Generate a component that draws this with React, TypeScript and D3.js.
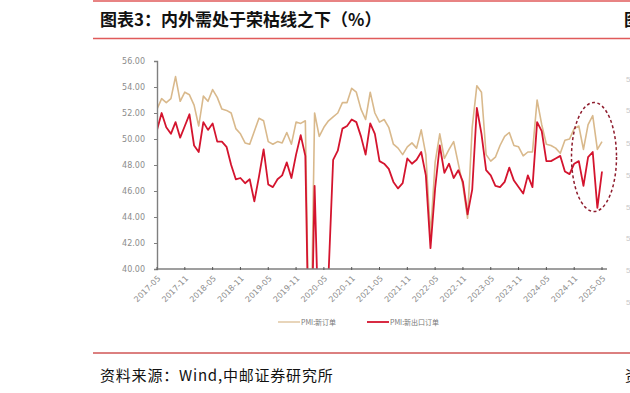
import React, { useRef, useEffect } from 'react';
import * as d3 from 'd3';

// monthly, 2017-05 .. 2025-05
const startMonth = '2017-05';
const newOrders = [
  52.3, 53.1, 52.8, 53.1, 54.8, 52.9, 53.6, 53.4,
  52.6, 51.0, 53.3, 52.9, 53.8, 53.2, 52.3, 52.2, 52.0, 50.8, 50.4, 49.7,
  49.6, 50.6, 51.6, 51.4, 49.8, 49.6, 49.8, 49.7, 50.5, 49.6, 51.3, 51.2,
  51.4, 29.3, 52.0, 50.2, 50.9, 51.4, 51.7, 52.0, 52.8, 52.8, 53.9, 53.6,
  52.3, 51.5, 53.6, 52.0, 51.3, 51.5, 50.9, 49.6, 49.3, 48.8, 49.4, 49.7,
  49.3, 50.7, 48.8, 42.6, 48.2, 50.4, 48.5, 49.2, 49.8, 48.1, 46.4, 43.9,
  50.9, 54.1, 53.6, 48.8, 48.3, 48.6, 49.5, 50.2, 50.5, 49.5, 49.4, 48.7,
  49.0, 49.0, 53.0, 51.1, 49.6, 49.5, 49.3, 48.9, 49.9, 50.0, 50.8, 51.0,
  49.2, 51.1, 51.8, 49.2, 49.8,
];
const exportOrders = [
  50.7, 52.0, 50.9, 50.4, 51.3, 50.1, 51.0, 51.9,
  49.5, 49.0, 51.3, 50.7, 51.2, 49.8, 49.8, 49.4, 48.0, 46.9, 47.0, 46.6,
  46.9, 45.2, 47.1, 49.2, 46.5, 46.3, 46.9, 47.2, 48.2, 47.0, 48.8, 50.3,
  48.7, 28.7, 46.4, 33.5, 35.3, 39.5, 48.4, 49.1, 50.8, 51.0, 51.5, 51.3,
  50.2, 48.8, 51.2, 50.4, 48.3, 48.1, 47.7, 46.7, 46.2, 46.6, 48.5, 48.1,
  48.4, 49.0, 47.2, 41.6, 46.2, 49.5, 47.4, 48.1, 47.0, 47.6, 46.7, 44.2,
  46.1, 52.4, 50.4, 47.6, 47.2, 46.4, 46.3, 46.7, 47.8, 46.8, 46.3, 45.8,
  47.2, 46.3, 51.3, 50.6, 48.3, 48.3, 48.5, 48.7, 47.5, 47.3, 48.1, 48.3,
  46.4, 48.6, 49.0, 44.7, 47.5,
];
const yTicks = [40, 42, 44, 46, 48, 50, 52, 54, 56];
const xTickLabels = [
  '2017-05', '2017-11', '2018-05', '2018-11', '2019-05', '2019-11', '2020-05', '2020-11',
  '2021-05', '2021-11', '2022-05', '2022-11', '2023-05', '2023-11', '2024-05', '2024-11', '2025-05',
];
const seriesNames = ['PMI:新订单', 'PMI:新出口订单'];

const monthIndex = (s: string) => {
  const [y, m] = s.split('-').map(Number);
  const [y0, m0] = startMonth.split('-').map(Number);
  return (y - y0) * 12 + (m - m0);
};

const App = () => {
  const svgRef = useRef<SVGSVGElement>(null);

  useEffect(() => {
    const svg = d3.select(svgRef.current);
    svg.selectAll('*').remove();

    const W = 630, H = 393;
    const left = 157, right = 602, top = 61, bottom = 269;
    const cjk = '"Noto Sans CJK SC", "Noto Sans", sans-serif';

    svg.attr('width', W).attr('height', H);

    // frame lines
    svg.append('line').attr('x1', 93).attr('x2', W).attr('y1', 1).attr('y2', 1)
      .attr('stroke', '#e05a5a').attr('stroke-width', 1.5);
    svg.append('line').attr('x1', 93).attr('x2', W).attr('y1', 38.5).attr('y2', 38.5)
      .attr('stroke', '#e05a5a').attr('stroke-width', 1.5);
    svg.append('line').attr('x1', 93).attr('x2', W).attr('y1', 353).attr('y2', 353)
      .attr('stroke', '#b80000').attr('stroke-width', 1);

    svg.append('text').attr('x', 100).attr('y', 26)
      .style('font-family', cjk).style('font-size', '17px').style('font-weight', 'bold')
      .attr('fill', '#111').text('图表3：内外需处于荣枯线之下（%）');
    svg.append('text').attr('x', 624).attr('y', 26)
      .style('font-family', cjk).style('font-size', '17px').style('font-weight', 'bold')
      .attr('fill', '#111').text('图');

    svg.append('text').attr('x', 100).attr('y', 381)
      .style('font-family', cjk).style('font-size', '15px').style('letter-spacing', '0.8px')
      .attr('fill', '#111').text('资料来源：Wind,中邮证券研究所');
    svg.append('text').attr('x', 625).attr('y', 381)
      .style('font-family', cjk).style('font-size', '15px')
      .attr('fill', '#111').text('资');

    // faint labels of the neighbouring chart, cut off at the right edge
    [79, 110, 143, 175, 207, 238, 270, 302].forEach(yy => {
      svg.append('text').attr('x', 626).attr('y', yy + 3)
        .style('font-family', 'sans-serif').style('font-size', '8px')
        .attr('fill', '#c8c8c8').text('5');
    });

    const x = d3.scaleLinear().domain([0, newOrders.length - 1]).range([left, right]);
    const y = d3.scaleLinear().domain([40, 56]).range([bottom, top]);

    // clip
    svg.append('defs').append('clipPath').attr('id', 'plotClip')
      .append('rect').attr('x', left).attr('y', top - 5).attr('width', W - left).attr('height', bottom - top + 5);

    const line = d3.line<number>().x((d, i) => x(i)).y(d => y(d));
    const plot = svg.append('g').attr('clip-path', 'url(#plotClip)');
    plot.append('path').datum(newOrders).attr('d', line)
      .attr('fill', 'none').attr('stroke', '#d9b98c').attr('stroke-width', 1.6)
      .attr('stroke-linejoin', 'round');
    plot.append('path').datum(exportOrders).attr('d', line)
      .attr('fill', 'none').attr('stroke', '#d4142e').attr('stroke-width', 1.8)
      .attr('stroke-linejoin', 'round');

    // y axis
    const yAxis = svg.append('g').attr('transform', `translate(${left},0)`)
      .call(d3.axisLeft(y).tickValues(yTicks).tickSize(3).tickPadding(9).tickFormat(d3.format('.2f')));
    yAxis.select('.domain').attr('stroke', '#7f7f7f').attr('stroke-width', 1.4);
    yAxis.selectAll('.tick line').attr('stroke', '#7f7f7f');
    yAxis.selectAll('text').attr('fill', '#8c8c8c')
      .style('font-family', '"DejaVu Sans", sans-serif').style('font-size', '8px');

    // x axis
    svg.append('line').attr('x1', left).attr('x2', 607).attr('y1', bottom).attr('y2', bottom)
      .attr('stroke', '#7f7f7f').attr('stroke-width', 1.4);
    const xg = svg.append('g');
    xTickLabels.forEach(lbl => {
      const px = x(monthIndex(lbl));
      xg.append('line').attr('x1', px).attr('x2', px).attr('y1', bottom - 2).attr('y2', bottom + 1)
        .attr('stroke', '#555');
      xg.append('text')
        .attr('transform', `translate(${px + 4},${bottom + 10}) rotate(-45)`)
        .attr('text-anchor', 'end')
        .style('font-family', '"DejaVu Sans", sans-serif').style('font-size', '8px')
        .attr('fill', '#8c8c8c').text(lbl);
    });

    // highlight ellipse
    svg.append('ellipse').attr('cx', 594).attr('cy', 157).attr('rx', 22.5).attr('ry', 54.5)
      .attr('fill', 'none').attr('stroke', '#8e1b2c').attr('stroke-width', 1.5)
      .attr('stroke-dasharray', '3,2.5');

    // legend
    const legendItems = [
      { name: seriesNames[0], color: '#d9b98c', x: 278 },
      { name: seriesNames[1], color: '#d4142e', x: 367 },
    ];
    legendItems.forEach(it => {
      svg.append('line').attr('x1', it.x).attr('x2', it.x + 22).attr('y1', 322).attr('y2', 322)
        .attr('stroke', it.color).attr('stroke-width', it.color === '#d4142e' ? 1.8 : 1.2);
      svg.append('text').attr('x', it.x + 23).attr('y', 324.5)
        .style('font-family', cjk).style('font-size', '7px')
        .attr('fill', '#777').text(it.name);
    });
  }, []);

  return (
    <svg ref={svgRef} style={{ position: 'absolute', left: 0, top: 0, background: '#fff' }}></svg>
  );
};

export default App;
